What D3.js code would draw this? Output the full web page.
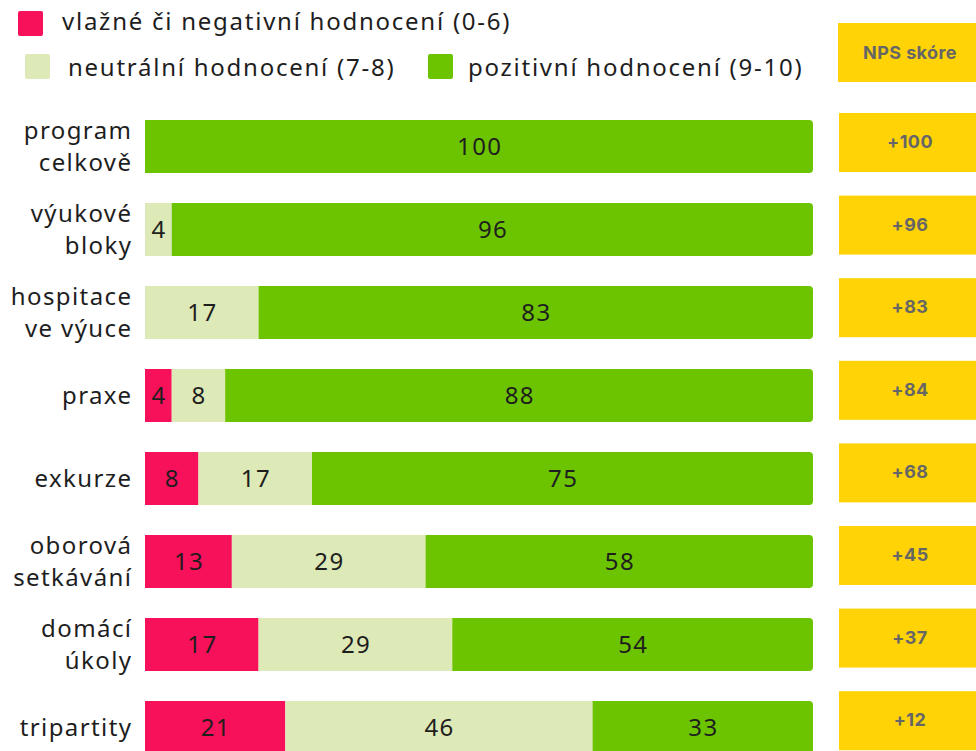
<!DOCTYPE html>
<html>
<head>
<meta charset="utf-8">
<script src="https://cdn.jsdelivr.net/npm/d3@7"></script>
<style>
  body { margin: 0; background: #fff; }
  svg { display: block; }
</style>
</head>
<body>
<div id="chart"></div>
<script>
// chart data
const CATEGORIES = [
    ["program", "celkově"],
    ["výukové", "bloky"],
    ["hospitace", "ve výuce"],
    ["praxe"],
    ["exkurze"],
    ["oborová", "setkávání"],
    ["domácí", "úkoly"],
    ["tripartity"]
];
const NEGATIVE = [0, 0, 0, 4, 8, 13, 17, 21];
const NEUTRAL = [0, 4, 17, 8, 17, 29, 29, 46];
const POSITIVE = [100, 96, 83, 88, 75, 58, 54, 33];
const NPS = ["+100", "+96", "+83", "+84", "+68", "+45", "+37", "+12"];
const SERIES_NAMES = ["vlažné či negativní hodnocení (0-6)", "neutrální hodnocení (7-8)", "pozitivní hodnocení (9-10)"];
const NPS_TITLE = "NPS skóre";

const colors = ["#f7105a", "#dde9b6", "#6cc400"];
const width = 976, height = 751;
const labelFont = "'Noto Sans', 'DejaVu Sans', sans-serif";
const npsFont = "Inter, 'Open Sans', sans-serif";
const ls = 1.4; // letter spacing of the plain texts

var svg = d3.select("#chart")
    .append("svg")
    .attr("width", width)
    .attr("height", height);

// scales: bars step 83 px, height 53; NPS boxes step 82.6, height 59
var x = d3.scaleLinear().domain([0, 100]).range([145, 813]);
var y = d3.scaleBand()
    .domain(d3.range(CATEGORIES.length))
    .range([120, 120 + 83 * 7 + 53])
    .paddingInner(30 / 83).paddingOuter(0);
var yBox = d3.scaleBand()
    .domain(d3.range(CATEGORIES.length))
    .range([113, 113 + 82.6 * 7 + 59])
    .paddingInner(23.6 / 82.6).paddingOuter(0);

// build stacked rows
const rows = CATEGORIES.map((c, i) => ({ neg: NEGATIVE[i], neu: NEUTRAL[i], pos: POSITIVE[i] }));
var stack = d3.stack().keys(["neg", "neu", "pos"])(rows);

// rect with only the right side rounded
const rightRounded = (x0, y0, w, h, r) => {
    const p = d3.path();
    p.moveTo(x0, y0);
    p.lineTo(x0 + w - r, y0);
    p.arcTo(x0 + w, y0, x0 + w, y0 + r, r);
    p.lineTo(x0 + w, y0 + h - r);
    p.arcTo(x0 + w, y0 + h, x0 + w - r, y0 + h, r);
    p.lineTo(x0, y0 + h);
    p.closePath();
    return p.toString();
};

stack.forEach((layer, k) => {
    var g = svg.append("g");
    layer.forEach((d, i) => {
        const x0 = x(d[0]), x1 = x(d[1]);
        if (x1 - x0 <= 0) return;
        if (k === 2) {
            g.append("path")
                .attr("d", rightRounded(x0, y(i), x1 - x0, y.bandwidth(), 4))
                .attr("fill", colors[k]);
        } else {
            g.append("rect")
                .attr("x", x0)
                .attr("y", y(i))
                .attr("width", x1 - x0)
                .attr("height", y.bandwidth())
                .attr("fill", colors[k]);
        }
        g.append("text")
            .attr("x", (x0 + x1) / 2 + ls / 2)
            .attr("y", y(i) + y.bandwidth() / 2)
            .attr("dy", "0.36em")
            .attr("text-anchor", "middle")
            .style("font-family", labelFont)
            .style("font-size", "24px")
            .style("letter-spacing", ls + "px")
            .style("fill", "#1e1e1e")
            .text(d[1] - d[0]);
    });
});

// category labels
CATEGORIES.forEach((lines, i) => {
    const cy = y(i) + y.bandwidth() / 2;
    const t = svg.append("text")
        .attr("text-anchor", "end")
        .style("font-family", labelFont)
        .style("font-size", "24px")
        .style("letter-spacing", ls + "px")
        .style("fill", "#1e1e1e");
    lines.forEach((line, j) => {
        t.append("tspan")
            .attr("x", 131 + ls)
            .attr("y", cy + (j - (lines.length - 1) / 2) * 32)
            .attr("dy", "0.36em")
            .text(line);
    });
});

// NPS boxes
svg.append("rect")
    .attr("x", 838).attr("y", 23).attr("width", 145).attr("height", 59)
    .attr("fill", "#ffd306");
svg.append("text")
    .attr("x", 910).attr("y", 53).attr("dy", "0.36em")
    .attr("text-anchor", "middle")
    .style("font-family", npsFont).style("font-weight", 700)
    .style("font-size", "18px").style("letter-spacing", "0.4px")
    .style("fill", "#666666")
    .text(NPS_TITLE);

NPS.forEach((v, i) => {
    svg.append("rect")
        .attr("x", 839).attr("y", yBox(i))
        .attr("width", 145).attr("height", yBox.bandwidth())
        .attr("fill", "#ffd306");
    svg.append("text")
        .attr("x", 910).attr("y", yBox(i) + yBox.bandwidth() / 2 - 1)
        .attr("dy", "0.36em")
        .attr("text-anchor", "middle")
        .style("font-family", npsFont).style("font-weight", 700)
        .style("font-size", "18px").style("letter-spacing", "0.4px")
        .style("fill", "#666666")
        .text(v);
});

// legend
const legendItems = [
    { sx: 18, sy: 11, tx: 62, ty: 21, k: 0 },
    { sx: 25, sy: 54, tx: 68, ty: 67, k: 1 },
    { sx: 428, sy: 54, tx: 468, ty: 67, k: 2 }
];
legendItems.forEach(d => {
    svg.append("rect")
        .attr("x", d.sx).attr("y", d.sy)
        .attr("width", 25).attr("height", 25).attr("rx", 2)
        .attr("fill", colors[d.k]);
    svg.append("text")
        .attr("x", d.tx).attr("y", d.ty).attr("dy", "0.36em")
        .style("font-family", labelFont)
        .style("font-size", "24px")
        .style("letter-spacing", "1.75px")
        .style("fill", "#1e1e1e")
        .text(SERIES_NAMES[d.k]);
});
</script>
</body>
</html>
